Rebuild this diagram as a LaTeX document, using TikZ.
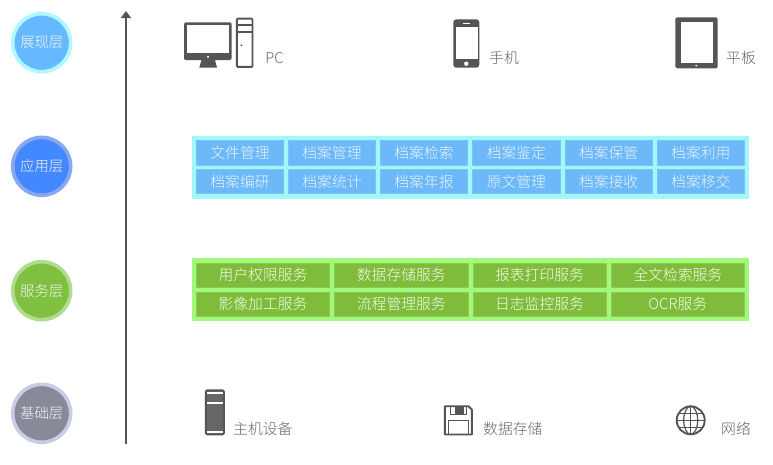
\documentclass[tikz,border=0pt]{standalone}
\usepackage{fontspec}
\setmainfont{Noto Sans CJK SC Light}
\usetikzlibrary{arrows.meta}
\definecolor{ic}{HTML}{555555}
\definecolor{lab}{HTML}{666666}
\definecolor{bluecell}{HTML}{6CB8F8}
\definecolor{blueedge}{HTML}{7CC4F8}
\definecolor{blueouter}{HTML}{A2F8F8}
\definecolor{greencell}{HTML}{80BC3C}
\definecolor{greenedge}{HTML}{8CCC50}
\definecolor{greenouter}{HTML}{A2F87C}
\definecolor{c1fill}{HTML}{66B8FF}\definecolor{c1ring}{HTML}{B0F8FF}
\definecolor{c2fill}{HTML}{4488FF}\definecolor{c2ring}{HTML}{88A8F0}
\definecolor{c3fill}{HTML}{80C040}\definecolor{c3ring}{HTML}{B0DC90}
\definecolor{c4fill}{HTML}{888A9A}\definecolor{c4ring}{HTML}{C8CCE4}
\tikzset{
  x=1pt,y=-1pt,
  layer/.style={circle,minimum size=58pt,inner sep=0pt,line width=3.6pt,text=white!92!gray,font=\fontsize{14.4}{14}\selectfont},
  bcell/.style={rectangle,fill=bluecell,draw=blueedge,line width=.6pt,inner sep=0pt,minimum height=24.4pt,text=white!85!bluecell,font=\fontsize{14.8}{15}\selectfont},
  gcell/.style={rectangle,fill=greencell,draw=greenedge,line width=.6pt,inner sep=0pt,minimum height=24.4pt,text=white!85!greenouter,font=\fontsize{14.8}{15}\selectfont},
  devlabel/.style={text=lab,inner sep=0pt,font=\fontsize{14.8}{15}\selectfont},
  iconfill/.style={fill=ic,draw=none},
  iconline/.style={draw=ic,line width=1.9pt,line join=round},
}
\newcommand\bluecellnode[3]{\node[bcell,minimum width=87.4pt] (#1) at #2 {#3};}
\newcommand\greencellnode[3]{\node[gcell,minimum width=133.4pt] (#1) at #2 {#3};}
\begin{document}
\begin{tikzpicture}
\useasboundingbox (0,0) rectangle (773,464);
\fill[white] (0,0) rectangle (773,464);
% layer circles
\node[layer,fill=c1fill,draw=c1ring] (l1) at (41.7,42.7) {展现层};
\node[layer,fill=c2fill,draw=c2ring] (l2) at (41.7,166.3) {应用层};
\node[layer,fill=c3fill,draw=c3ring] (l3) at (41.7,290.7) {服务层};
\node[layer,fill=c4fill,draw=c4ring] (l4) at (41.7,413.3) {基础层};
% axis
\coordinate (axisbottom) at (126,444);
\coordinate (axistop) at (126,11);
\draw[ic,line width=2.8pt,-{Triangle[length=7pt,width=10pt]}] (axisbottom) -- (axistop);
% blue table
\fill[blueouter] (192,135.7) rectangle (749,198.7);
\bluecellnode{a1}{(240,152.8)}{文件管理}
\bluecellnode{a2}{(332,152.8)}{档案管理}
\bluecellnode{a3}{(424,152.8)}{档案检索}
\bluecellnode{a4}{(516.4,152.8)}{档案鉴定}
\bluecellnode{a5}{(608.6,152.8)}{档案保管}
\bluecellnode{a6}{(700.8,152.8)}{档案利用}
\bluecellnode{b1}{(240,181.4)}{档案编研}
\bluecellnode{b2}{(332,181.4)}{档案统计}
\bluecellnode{b3}{(424,181.4)}{档案年报}
\bluecellnode{b4}{(516.4,181.4)}{原文管理}
\bluecellnode{b5}{(608.6,181.4)}{档案接收}
\bluecellnode{b6}{(700.8,181.4)}{档案移交}
% green table
\fill[greenouter] (192,258.3) rectangle (749,320.7);
\greencellnode{s1}{(263,275.2)}{用户权限服务}
\greencellnode{s2}{(401.3,275.2)}{数据存储服务}
\greencellnode{s3}{(539.5,275.2)}{报表打印服务}
\greencellnode{s4}{(677.8,275.2)}{全文检索服务}
\greencellnode{t1}{(263,304.2)}{影像加工服务}
\greencellnode{t2}{(401.3,304.2)}{流程管理服务}
\greencellnode{t3}{(539.5,304.2)}{日志监控服务}
\greencellnode{t4}{(677.8,304.2)}{OCR服务}
% device labels
\node[devlabel,anchor=center] (pc) at (274.5,58) {PC};
\node[devlabel,anchor=west] (phone) at (489,58) {手机};
\node[devlabel,anchor=west] (tablet) at (726,58) {平板};
\node[devlabel,anchor=west] (host) at (233,429) {主机设备};
\node[devlabel,anchor=west] (store) at (483,429) {数据存储};
\node[devlabel,anchor=west] (net) at (721,429) {网络};
% monitor icon
\fill[iconfill,rounded corners=1.5pt] (184,22.3) rectangle (231.7,60);
\fill[white] (186.7,25) rectangle (229.3,53.3);
\fill[white] (208,56.7) circle (1.2);
\fill[iconfill] (201.5,60) -- (215,60) -- (217,67.5) -- (199.3,67.5) -- cycle;
% tower icon
\draw[iconline,fill=white,rounded corners=1pt] (236.9,18.6) rectangle (252.5,66.9);
\fill[ic] (236,24.3) rectangle (253.3,26.1);
\fill[ic] (236,31.3) rectangle (253.3,33.3);
\fill[ic] (241.3,45.3) circle (1);
% phone icon
\fill[iconfill,rounded corners=3pt] (453.3,19.3) rectangle (479.3,67.7);
\fill[white] (455.7,27.3) rectangle (477.7,59.3);
\fill[white] (463,23.2) rectangle (469.5,24.4);
\fill[white] (466.3,63.7) circle (2.2);
% tablet icon
\fill[iconfill,rounded corners=1.5pt] (675.3,17.3) rectangle (717.7,68.3);
\fill[white] (680.7,22) rectangle (712.7,63.3);
\fill[white] (696.3,65.6) circle (1);
% server icon
\draw[iconline,fill=ic!90!white,rounded corners=1.5pt] (205.8,390.2) rectangle (223.9,434.5);
\fill[white] (207.2,392.4) rectangle (222.6,394.4);
\fill[white] (207.2,401.8) rectangle (222.6,403.6);
\fill[white] (207.2,430.6) rectangle (222.6,432.6);
% floppy icon
\draw[iconline,fill=white] (444.8,406.2) -- (468.5,406.2) -- (471.9,409.6) -- (471.9,434.5) -- (444.8,434.5) -- cycle;
\draw[draw=ic,line width=1pt] (450.7,406.2) -- (450.7,414) -- (466.7,414) -- (466.7,406.2);
\fill[ic] (455.3,406.2) rectangle (463.5,413.5);
\draw[draw=ic,line width=1.2pt] (448.5,434.5) -- (448.5,420.3) -- (468.2,420.3) -- (468.2,434.5);
% globe icon
\draw[iconline] (690.7,420.3) circle (14);
\draw[draw=ic,line width=1.2pt] (690.7,420.3) ellipse (7 and 14);
\draw[draw=ic,line width=1.2pt] (690.7,406.3) -- (690.7,434.3) (676.7,420.3) -- (704.7,420.3) (679,413.3) -- (702.4,413.3) (679,427.3) -- (702.4,427.3);
\end{tikzpicture}
\end{document}
